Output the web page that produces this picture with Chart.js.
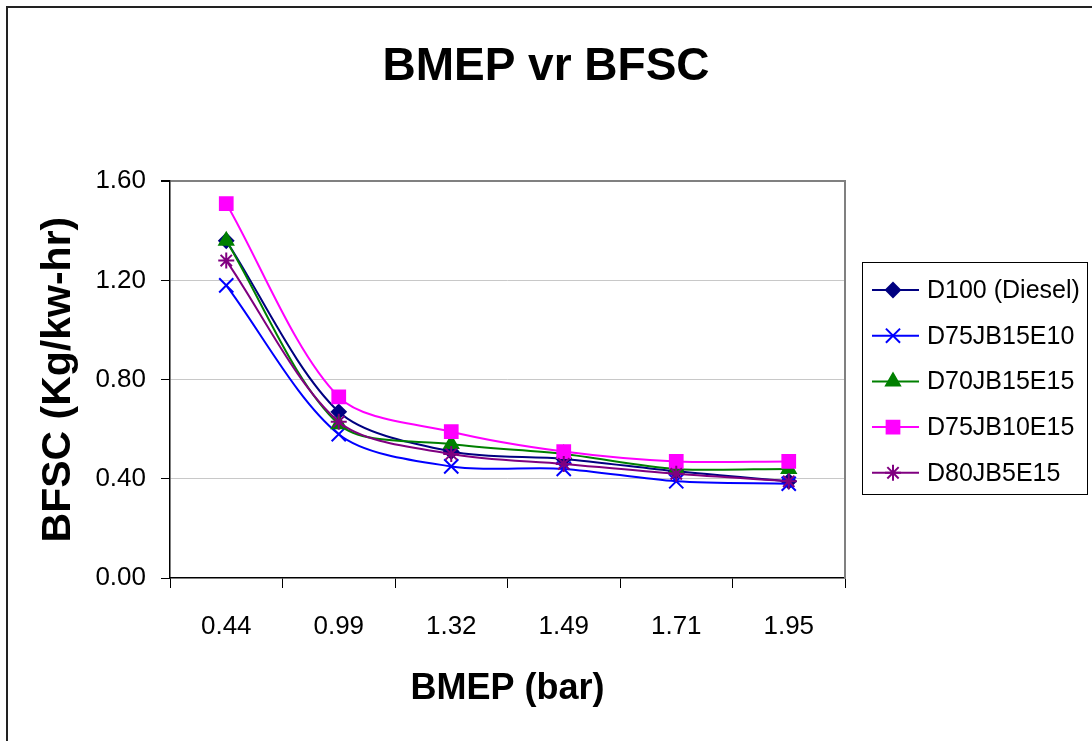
<!DOCTYPE html>
<html>
<head>
<meta charset="utf-8">
<title>BMEP vr BFSC</title>
<script src="https://cdn.jsdelivr.net/npm/chart.js@4.4.1/dist/chart.umd.min.js"></script>
<style>
  html, body { margin: 0; padding: 0; background: #fff; }
  #wrap { width: 1092px; height: 741px; }
</style>
</head>
<body>
<div id="wrap"><canvas id="chart" width="1092" height="741"></canvas></div>
<script>
const bmep = ["0.44", "0.99", "1.32", "1.49", "1.71", "1.95"];
const d100 = [1.36, 0.67, 0.51, 0.48, 0.43, 0.39];
const d75jb15e10 = [1.18, 0.58, 0.45, 0.44, 0.39, 0.38];
const d70jb15e15 = [1.36, 0.62, 0.54, 0.50, 0.44, 0.44];
const d75jb10e15 = [1.51, 0.73, 0.59, 0.51, 0.47, 0.47];
const d80jb5e15 = [1.28, 0.63, 0.50, 0.46, 0.42, 0.39];
const yTicks = [0, 0.4, 0.8, 1.2, 1.6];

const FONT = "'Liberation Sans', Arial, sans-serif";

// one entry per series: name, values, colour, marker
const series = [
  { label: "D100 (Diesel)", data: d100, color: "#000080", style: "rectRot", r: 7 },
  { label: "D75JB15E10", data: d75jb15e10, color: "#0000ff", style: "crossRot", r: 10 },
  { label: "D70JB15E15", data: d70jb15e15, color: "#008000", style: "triangle", r: 8 },
  { label: "D75JB10E15", data: d75jb10e15, color: "#ff00ff", style: "rect", r: 9 },
  { label: "D80JB5E15", data: d80jb5e15, color: "#800080", style: "star", r: 8 },
];

// legend box in the space kept free on the right, plus the outer frame
const boxLegend = {
  id: "boxLegend",
  afterDraw(chart) {
    const ctx = chart.ctx;
    ctx.save();
    // outer frame (left and top edges only are in view)
    ctx.strokeStyle = "#222";
    ctx.lineWidth = 2;
    ctx.beginPath();
    ctx.moveTo(7, 741);
    ctx.lineTo(7, 7);
    ctx.lineTo(1092, 7);
    ctx.stroke();

    ctx.lineWidth = 1;
    ctx.strokeStyle = "#000";
    ctx.strokeRect(862.5, 262.5, 225, 232);

    ctx.font = "25px " + FONT;
    ctx.textBaseline = "middle";
    ctx.textAlign = "left";
    chart.data.datasets.forEach((ds, i) => {
      const y = 290 + i * 45.7;
      ctx.strokeStyle = ds.borderColor;
      ctx.lineWidth = 2;
      ctx.beginPath();
      ctx.moveTo(872, y);
      ctx.lineTo(919, y);
      ctx.stroke();
      ctx.fillStyle = ds.pointBackgroundColor;
      ctx.strokeStyle = ds.pointBorderColor;
      ctx.lineWidth = ds.pointBorderWidth;
      Chart.helpers.drawPoint(ctx, {
        pointStyle: ds.pointStyle,
        radius: ds.pointRadius,
        rotation: 0,
        borderWidth: ds.pointBorderWidth,
      }, 893, y);
      ctx.fillStyle = "#000";
      ctx.fillText(ds.label, 927, y + 1);
    });
    ctx.restore();
  },
};

new Chart(document.getElementById("chart"), {
  type: "line",
  data: {
    labels: bmep,
    datasets: series.map((s, i) => ({
      label: s.label,
      data: s.data,
      borderColor: s.color,
      backgroundColor: s.color,
      borderWidth: 2,
      tension: 0.3,
      pointStyle: s.style,
      pointRadius: s.r,
      pointHoverRadius: s.r,
      pointBackgroundColor: s.color,
      pointBorderColor: s.color,
      pointBorderWidth: 2,
      order: series.length - i,
      fill: false,
    })),
  },
  options: {
    responsive: false,
    devicePixelRatio: 1,
    animation: false,
    layout: { padding: 0 },
    plugins: {
      legend: { display: false },
      tooltip: { enabled: false },
      title: {
        display: true,
        text: "BMEP vr BFSC",
        color: "#000",
        font: { family: FONT, size: 46, weight: "bold" },
        padding: { top: 40, bottom: 86 },
      },
    },
    scales: {
      x: {
        offset: true,
        grid: {
          offset: true,
          drawOnChartArea: false,
          drawTicks: true,
          tickLength: 10,
          tickColor: "#000",
          color: "#000",
        },
        border: { color: "#000", width: 1.5 },
        ticks: {
          color: "#000",
          font: { family: FONT, size: 26 },
          padding: 23,
          maxRotation: 0,
        },
        title: {
          display: true,
          text: "BMEP (bar)",
          color: "#000",
          font: { family: FONT, size: 36, weight: "bold" },
          padding: { top: 0, bottom: 30 },
        },
        afterFit(scale) { scale.height = 163; },
      },
      y: {
        min: 0,
        max: 1.6,
        afterBuildTicks(scale) { scale.ticks = yTicks.map(v => ({ value: v })); },
        grid: {
          color: (c) => c.tick && c.tick.value === 1.6 ? "#808080" : (c.tick && c.tick.value === 0 ? "rgba(0,0,0,0)" : "#c8c8c8"),
          lineWidth: (c) => c.tick && c.tick.value === 1.6 ? 2 : 1,
          tickColor: "#000",
          tickLength: 9,
        },
        border: { color: "#000", width: 1.5 },
        ticks: {
          color: "#000",
          font: { family: FONT, size: 26 },
          padding: 15,
          callback: (v) => Number(v).toFixed(2),
        },
        title: {
          display: true,
          text: "BFSC (Kg/kw-hr)",
          color: "#000",
          font: { family: FONT, size: 41, weight: "bold" },
          padding: { top: 34, bottom: 0 },
        },
        afterFit(scale) { scale.width = 170; },
      },
      // empty right axis: keeps room for the legend and draws the grey right edge
      yRight: {
        position: "right",
        min: 0,
        max: 1.6,
        grid: { display: false, drawTicks: false },
        ticks: { display: false },
        border: { color: "#808080", width: 2 },
        afterFit(scale) { scale.width = 247; },
      },
    },
  },
  plugins: [boxLegend],
});
</script>
</body>
</html>
